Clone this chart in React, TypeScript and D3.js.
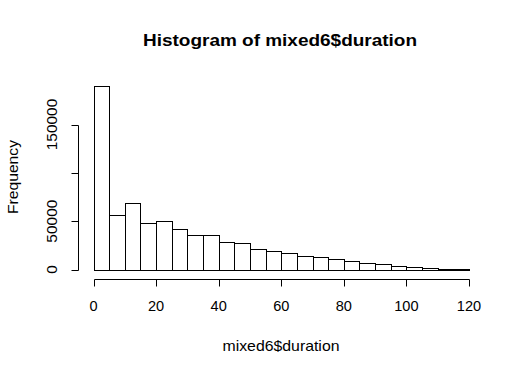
import { useEffect, useRef } from "react";
import * as d3 from "d3";

// histogram bins of width 5, from 0 to 120
const binStarts = [0, 5, 10, 15, 20, 25, 30, 35, 40, 45, 50, 55, 60, 65, 70, 75, 80, 85, 90, 95, 100, 105, 110, 115];
const counts = [
  190000, 55900, 68300, 47600, 49700, 41400, 36200, 35800, 28000, 26900, 21000, 19300,
  16600, 13800, 13000, 10400, 9300, 6800, 5500, 4100, 2400, 1700, 1000, 400,
];
const binWidth = 5;
const xTicks = [0, 20, 40, 60, 80, 100, 120];
const yTicks = [0, 50000, 100000, 150000];
const yTickLabels = ["0", "50000", "", "150000"];

const W = 525;
const H = 375;
const FONT = "Liberation Sans, Arial, Helvetica, sans-serif";

export default function App() {
  const ref = useRef<SVGSVGElement>(null);

  useEffect(() => {
    const svg = d3.select(ref.current);
    svg.selectAll("*").remove();

    const x = d3.scaleLinear().domain([0, 120]).range([93.5, 469]);
    const y = d3.scaleLinear().domain([0, 150000]).range([269.5, 124.5]);

    svg.append("rect").attr("width", W).attr("height", H).attr("fill", "#fff");

    // bars
    svg
      .append("g")
      .selectAll("rect")
      .data(binStarts)
      .join("rect")
      .attr("x", (d) => Math.round(x(d)) + 0.5)
      .attr("y", (_, i) => Math.round(y(counts[i])) + 0.5)
      .attr("width", (d) => Math.round(x(d + binWidth)) - Math.round(x(d)))
      .attr("height", (_, i) => Math.round(y(0)) - Math.round(y(counts[i])))
      .attr("fill", "#fff")
      .attr("stroke", "#000")
      .attr("stroke-width", 1);

    // x axis
    const xa = svg.append("g").attr("stroke", "#000").attr("fill", "none");
    const xAxisY = 279.5;
    xa.append("line").attr("x1", Math.round(x(0)) + 0.5).attr("x2", Math.round(x(120)) + 0.5).attr("y1", xAxisY).attr("y2", xAxisY);
    xTicks.forEach((t) => {
      const px = Math.round(x(t)) + 0.5;
      xa.append("line").attr("x1", px).attr("x2", px).attr("y1", xAxisY).attr("y2", xAxisY + 7);
    });
    svg
      .append("g")
      .selectAll("text")
      .data(xTicks)
      .join("text")
      .attr("x", (d) => x(d))
      .attr("y", 311)
      .attr("text-anchor", "middle")
      .attr("font-family", FONT)
      .attr("font-size", 14)
      .attr("textLength", (d) => String(d).length * 8.1)
      .attr("lengthAdjust", "spacingAndGlyphs")
      .text((d) => String(d));

    // y axis
    const ya = svg.append("g").attr("stroke", "#000").attr("fill", "none");
    const yAxisX = 78.5;
    ya.append("line").attr("x1", yAxisX).attr("x2", yAxisX).attr("y1", Math.round(y(0)) + 0.5).attr("y2", Math.round(y(150000)) + 0.5);
    yTicks.forEach((t) => {
      const py = Math.round(y(t)) + 0.5;
      ya.append("line").attr("x1", yAxisX).attr("x2", yAxisX - 7).attr("y1", py).attr("y2", py);
    });
    svg
      .append("g")
      .selectAll("text")
      .data(yTicks.filter((_, i) => yTickLabels[i] !== ""))
      .join("text")
      .attr("transform", (d) => `translate(57,${y(d)}) rotate(-90)`)
      .attr("text-anchor", "middle")
      .attr("font-family", FONT)
      .attr("font-size", 14)
      .attr("textLength", (d) => String(d).length * 8.6)
      .attr("lengthAdjust", "spacingAndGlyphs")
      .text((d) => String(d));

    // titles
    svg
      .append("text")
      .attr("x", 280)
      .attr("y", 45.5)
      .attr("text-anchor", "middle")
      .attr("font-family", FONT)
      .attr("font-weight", "bold")
      .attr("font-size", 16)
      .attr("textLength", 274)
      .attr("lengthAdjust", "spacingAndGlyphs")
      .text("Histogram of mixed6$duration");
    svg
      .append("text")
      .attr("x", 281)
      .attr("y", 350.5)
      .attr("text-anchor", "middle")
      .attr("font-family", FONT)
      .attr("font-size", 14.5)
      .attr("textLength", 117)
      .attr("lengthAdjust", "spacingAndGlyphs")
      .text("mixed6$duration");
    svg
      .append("text")
      .attr("transform", "translate(17.5,177) rotate(-90)")
      .attr("text-anchor", "middle")
      .attr("font-family", FONT)
      .attr("font-size", 14.5)
      .attr("textLength", 74)
      .attr("lengthAdjust", "spacingAndGlyphs")
      .text("Frequency");
  }, []);

  return (
    <div style={{ position: "absolute", left: 0, top: 0 }}>
      <svg ref={ref} width={W} height={H} style={{ display: "block" }} />
    </div>
  );
}
